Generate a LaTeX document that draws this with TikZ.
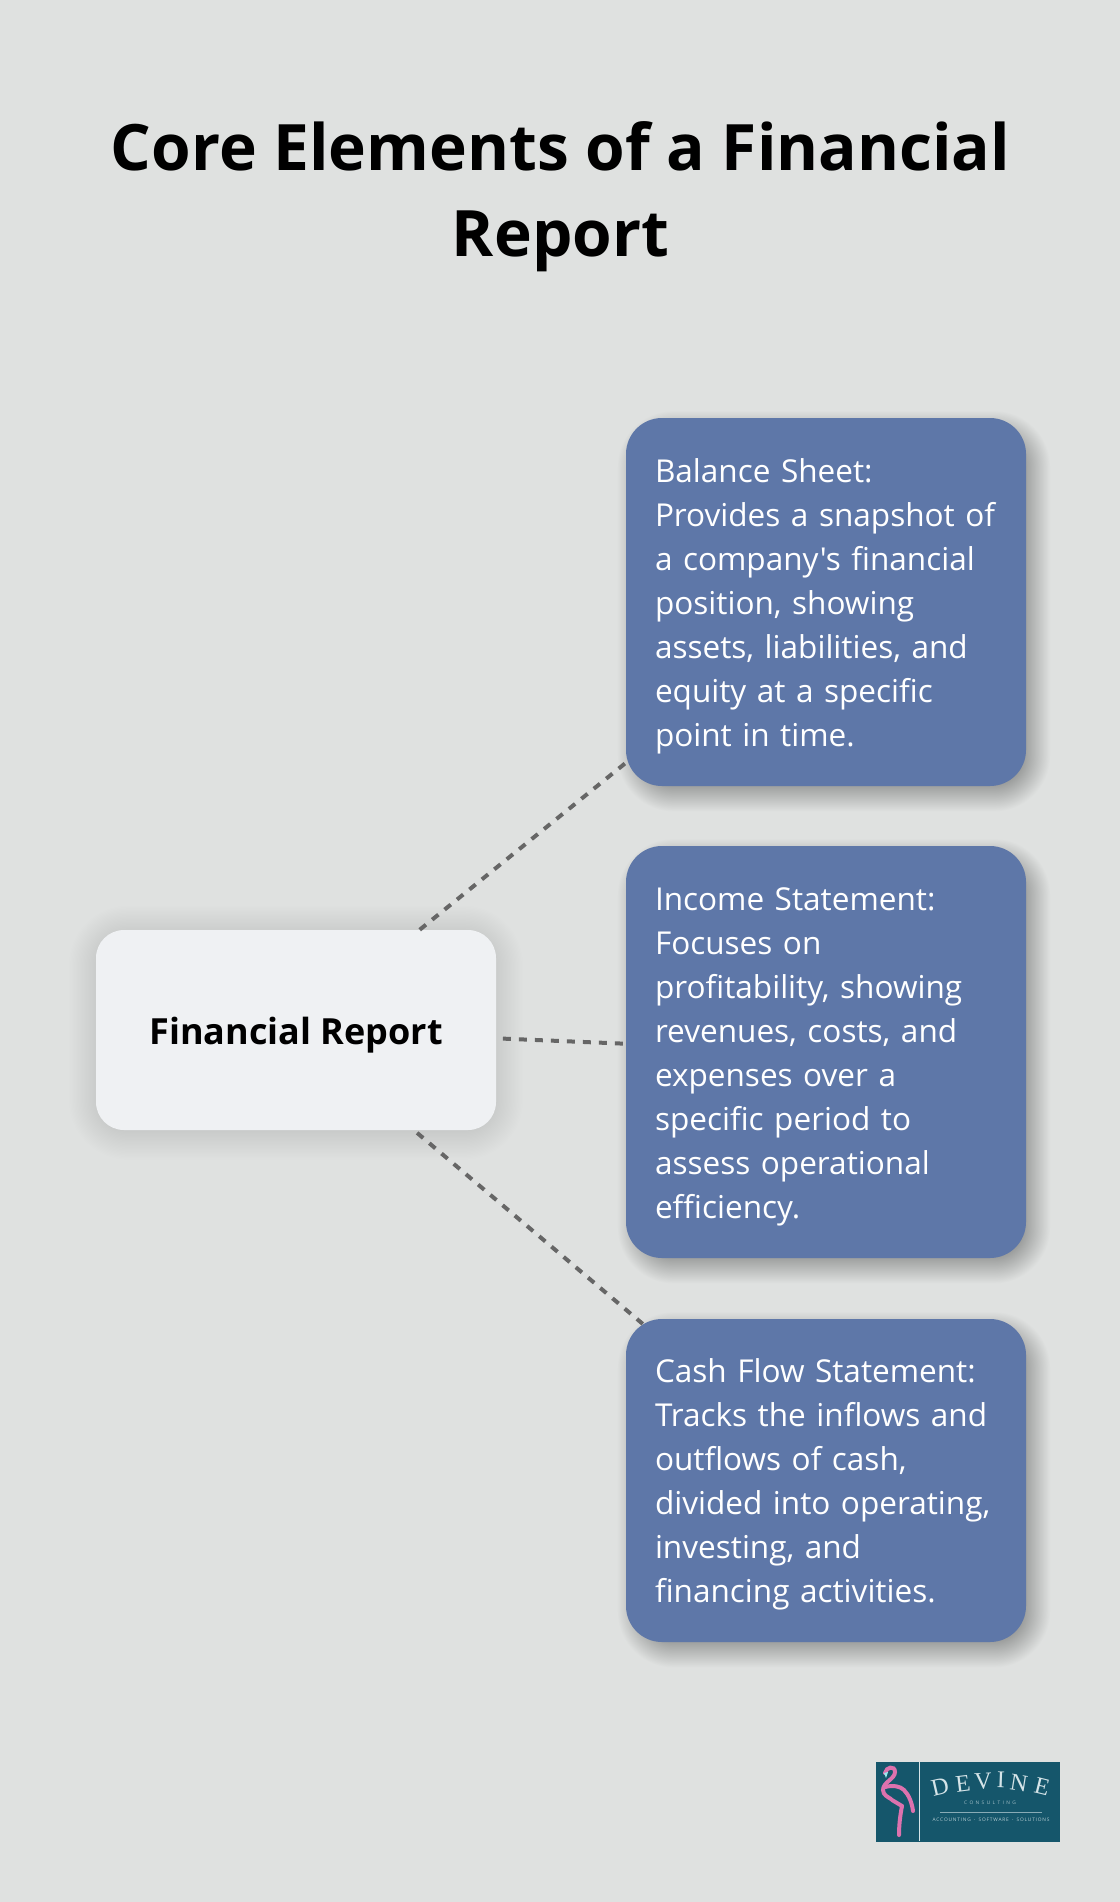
\documentclass[tikz,border=0pt]{standalone}
\usepackage{fontspec}
\setmainfont{Open Sans}[Ligatures=TeXOff]
\newfontfamily\logoserif{Liberation Serif}
\usetikzlibrary{backgrounds}
\definecolor{pagebg}{HTML}{DFE1E0}
\definecolor{itembg}{HTML}{5E77A8}
\definecolor{rootbg}{HTML}{EFF1F3}
\definecolor{linkgray}{HTML}{666666}
\definecolor{logobg}{HTML}{15566B}
\definecolor{logopink}{HTML}{DD72AE}
\definecolor{logotext}{HTML}{D5E4E8}
\tikzset{
  item/.style={fill=itembg, text=white, rounded corners=27pt, minimum width=300pt,
    text width=256.5pt, inner xsep=21.75pt, inner ysep=0pt, align=left,
    font=\fontsize{23.65pt}{33pt}\selectfont, execute at begin node={\rule{0pt}{24pt}}},
  root/.style={fill=rootbg, text=black, rounded corners=21pt, minimum width=300pt, minimum height=150pt,
    text height=28pt, text depth=6.5pt, font=\fontsize{27pt}{33pt}\selectfont\bfseries},
  link/.style={draw=linkgray, line width=3pt, dash pattern=on 6pt off 6pt},
  logoline/.style={draw=logopink, line width=3pt, line cap=round}
}
\newcommand{\softshadow}[6]{
  \foreach \layer in {-20,...,20} {
    \pgfmathsetmacro\spread{\layer*#6/20}
    \fill[black, opacity=#5, rounded corners=#4pt+\spread pt]
      ([xshift=#2pt-\spread pt, yshift=#3pt-\spread pt]#1.south west) rectangle
      ([xshift=#2pt+\spread pt, yshift=#3pt+\spread pt]#1.north east);
  }
}
\begin{document}
\begin{tikzpicture}[x=0.75pt, y=-0.75pt]
  \useasboundingbox (0,0) rectangle (1120,1902);
  \node (title) at (560.5,197) [align=center, font=\fontsize{48pt}{64.5pt}\selectfont\bfseries]
    {Core Elements of a Financial\\Report};
  \node[root] (report) at (296,1030) {Financial Report};
  \node[item, minimum height=276pt] (balance) at (826,602)
    {Balance Sheet:\\Provides a snapshot of\\a company's financial\\position, showing\\assets, liabilities, and\\equity at a specific\\point in time.};
  \node[item, minimum height=309pt] (income) at (826,1052)
    {Income Statement:\\Focuses on\\profitability, showing\\revenues, costs, and\\expenses over a\\specific period to\\assess operational\\efficiency.};
  \node[item, minimum height=242.25pt] (cash) at (826,1480.5)
    {Cash Flow Statement:\\Tracks the inflows and\\outflows of cash,\\divided into operating,\\investing, and\\financing activities.};
  \begin{scope}[on background layer]
    \fill[pagebg] (0,0) rectangle (1120,1902);
    \softshadow{report}{0}{-2}{24}{0.0045}{20}
    \softshadow{balance}{6}{-7}{30}{0.0095}{12}
    \softshadow{income}{6}{-7}{30}{0.0095}{12}
    \softshadow{cash}{6}{-7}{30}{0.0095}{12}
  \end{scope}
  \draw[link] (report) -- (balance);
  \draw[link, shorten <=5pt, shorten >=2pt] (report) -- (income);
  \draw[link, shorten <=3pt, shorten >=-6pt] (report) -- (cash);
  \fill[logobg] (876,1762) rectangle (1060,1842);
  \draw[logotext, line width=0.6pt] (919,1762) -- (919,1841);
  \foreach \letter/\lx/\ly/\lrot in {D/940/1787/13, E/963/1784/7, V/983/1781/3, I/1001/1780/-2, N/1019/1783/-9, E/1042/1787/-14}
    \node[text=logotext, font=\logoserif\fontsize{18pt}{18pt}\selectfont, rotate=\lrot, inner sep=0pt] at (\lx,\ly) {\letter};
  \node (consulting) at (990,1803) [text=logotext!75!logobg, inner sep=0pt, font=\fontsize{3.6pt}{4pt}\selectfont] {C\,\,\,O\,\,\,N\,\,\,S\,\,\,U\,\,\,L\,\,\,T\,\,\,I\,\,\,N\,\,\,G};
  \draw[logotext!60!logobg, line width=0.4pt] (940,1812) -- (1042,1812);
  \node (services) at (991,1820) [text=logotext!85!logobg, inner sep=0pt, font=\fontsize{3.6pt}{4pt}\selectfont] {A\,C\,C\,O\,U\,N\,T\,I\,N\,G\,\,\,$\cdot$\,\,\,S\,O\,F\,T\,W\,A\,R\,E\,\,\,$\cdot$\,\,\,S\,O\,L\,U\,T\,I\,O\,N\,S};
  \draw[logoline] (885,1773) .. controls (886,1767) and (895,1765) .. (895,1772)
    .. controls (895,1779) and (883,1782) .. (883,1790) .. controls (883,1795) and (888,1797) .. (891,1799);
  \draw[logoline] (885,1787) .. controls (893,1785) and (900,1786) .. (904,1790)
    .. controls (909,1795) and (912,1803) .. (913,1811);
  \draw[logoline] (892,1800) -- (902,1806);
  \draw[logoline] (902,1806) .. controls (900,1816) and (899,1826) .. (899,1835);
  \fill[logotext!70!cyan] (884,1773) -- (888,1772) -- (886,1778) -- cycle;
\end{tikzpicture}
\end{document}
